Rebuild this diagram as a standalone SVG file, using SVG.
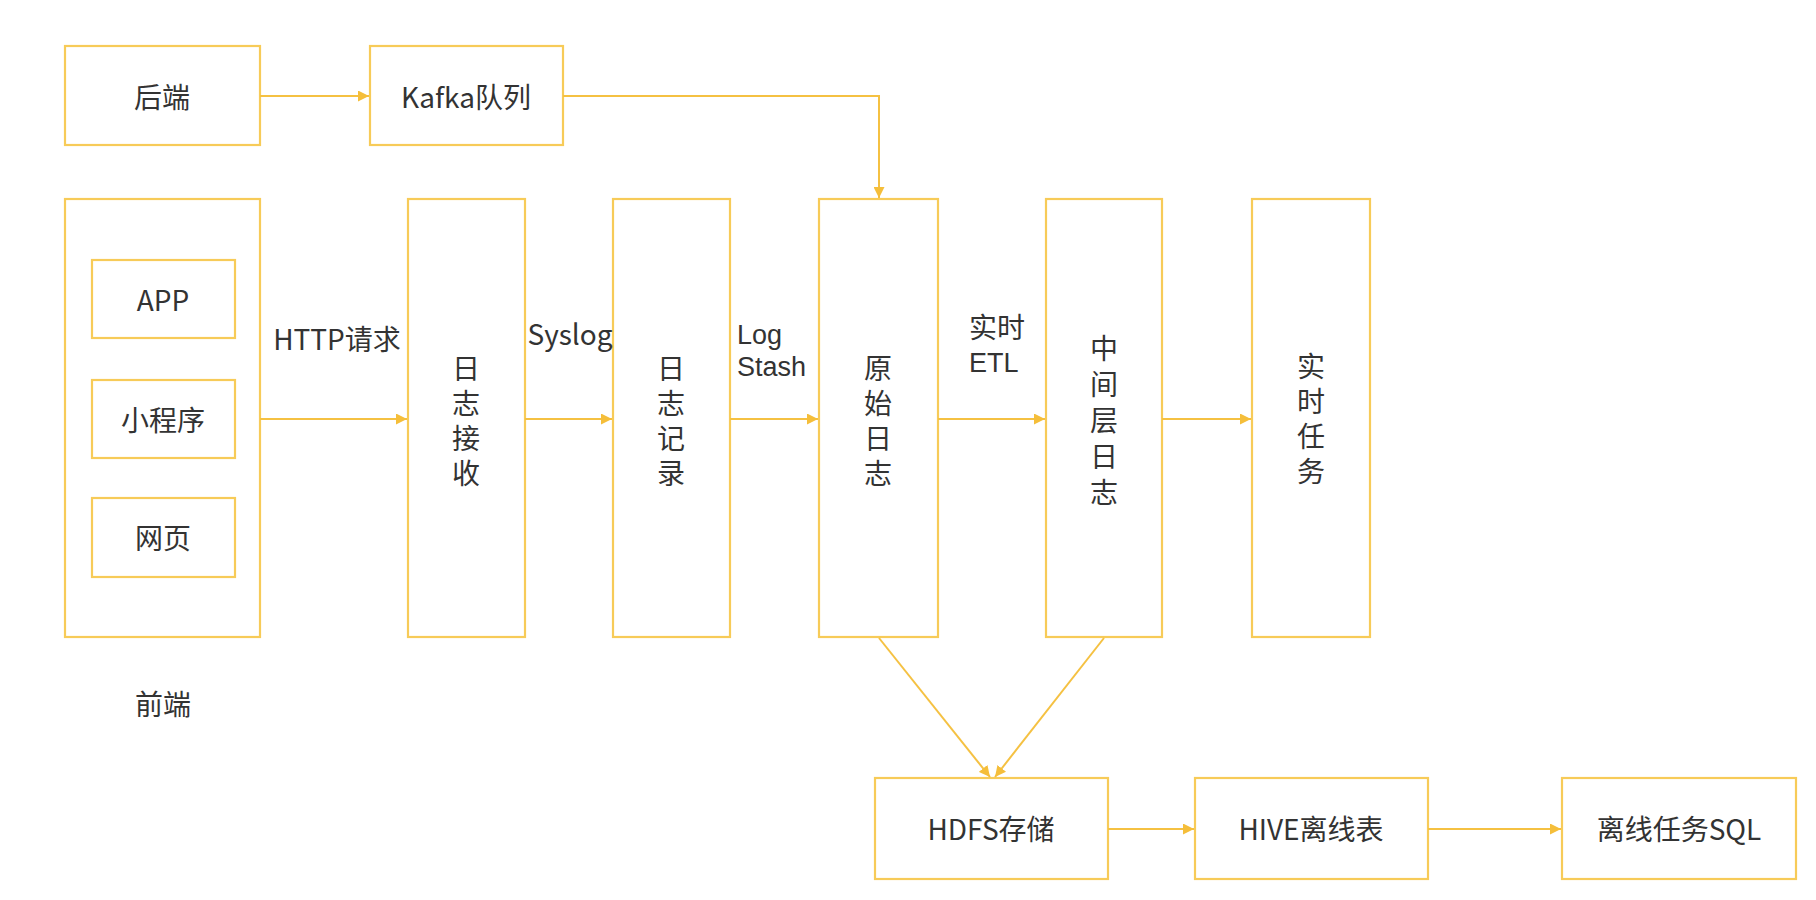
<svg xmlns="http://www.w3.org/2000/svg" width="1816" height="900" viewBox="0 0 1816 900">
<defs>
<marker id="arr" viewBox="0 0 10 10" refX="10" refY="5" markerWidth="11" markerHeight="11" markerUnits="userSpaceOnUse" orient="auto">
<path d="M0,0 L10,5 L0,10 Z" fill="#F5BE3A"/>
</marker>
<style>
.box{fill:#fff;stroke:#F7CB58;stroke-width:2.2}
.t{font-family:"Noto Sans CJK SC","Liberation Sans",sans-serif;font-size:28px;fill:#333;text-anchor:middle;dominant-baseline:central}
.v{font-family:"Noto Sans CJK SC","Liberation Sans",sans-serif;font-size:28px;fill:#333;text-anchor:middle;writing-mode:vertical-rl;text-orientation:upright;letter-spacing:7px}
.v5{letter-spacing:8px}
.l{font-family:"Noto Sans CJK SC","Liberation Sans",sans-serif;font-size:28px;fill:#333;dominant-baseline:central}
.lat{font-family:"Liberation Sans",sans-serif;font-size:27px;fill:#333;dominant-baseline:central}
.c{fill:none;stroke:#F5C142;stroke-width:2;marker-end:url(#arr)}
</style>
</defs>
<rect width="1816" height="900" fill="#fff"/>
<g id="backend"><rect class="box" x="65" y="46" width="195" height="99"/><text class="t" x="162" y="96">后端</text></g>
<g id="kafka"><rect class="box" x="370" y="46" width="193" height="99"/><text class="t" x="466" y="96">Kafka队列</text></g>
<g id="frontend"><rect class="box" x="65" y="199" width="195" height="438"/><text class="t" x="163" y="703">前端</text></g>
<g id="app"><rect class="box" x="92" y="260" width="143" height="78"/><text class="t" x="163" y="299">APP</text></g>
<g id="miniprogram"><rect class="box" x="92" y="380" width="143" height="78"/><text class="t" x="163" y="419">小程序</text></g>
<g id="web"><rect class="box" x="92" y="498" width="143" height="79"/><text class="t" x="163" y="537">网页</text></g>
<g id="logrecv"><rect class="box" x="408" y="199" width="117" height="438"/><text class="v" x="466" y="424">日志接收</text></g>
<g id="logrecord"><rect class="box" x="613" y="199" width="117" height="438"/><text class="v" x="671" y="424">日志记录</text></g>
<g id="rawlog"><rect class="box" x="819" y="199" width="119" height="438"/><text class="v" x="878" y="424">原始日志</text></g>
<g id="midlog"><rect class="box" x="1046" y="199" width="116" height="438"/><text class="v v5" x="1104" y="424">中间层日志</text></g>
<g id="rttask"><rect class="box" x="1252" y="199" width="118" height="438"/><text class="v" x="1311" y="422">实时任务</text></g>
<g id="hdfs"><rect class="box" x="875" y="778" width="233" height="101"/><text class="t" x="991" y="828">HDFS存储</text></g>
<g id="hive"><rect class="box" x="1195" y="778" width="233" height="101"/><text class="t" x="1311" y="828">HIVE离线表</text></g>
<g id="offline"><rect class="box" x="1562" y="778" width="234" height="101"/><text class="t" x="1679" y="828">离线任务SQL</text></g>
<g id="connectors">
<path class="c" d="M260,96 H369"/>
<path class="c" d="M563,96 H879 V198"/>
<path class="c" d="M260,419 H407"/>
<path class="c" d="M525,419 H612"/>
<path class="c" d="M730,419 H818"/>
<path class="c" d="M938,419 H1045"/>
<path class="c" d="M1162,419 H1251"/>
<path class="c" d="M879,638 L990,777"/>
<path class="c" d="M1104,638 L995,777"/>
<path class="c" d="M1108,829 H1194"/>
<path class="c" d="M1428,829 H1561"/>
<text class="t" x="337" y="338">HTTP请求</text>
<text class="t" x="570" y="333">Syslog</text>
<text class="lat" x="737" y="335">Log</text>
<text class="lat" x="737" y="367">Stash</text>
<text class="l" x="969" y="326">实时</text>
<text class="lat" x="969" y="363">ETL</text>
</g>
</svg>
